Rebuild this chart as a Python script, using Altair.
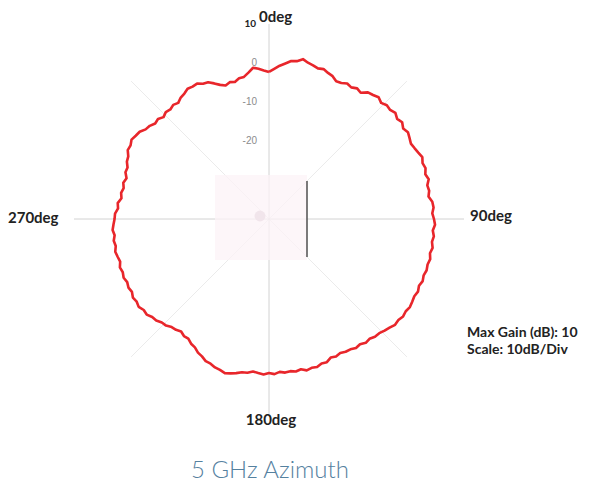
import altair as alt
import pandas as pd

# ---------------- data ----------------
angles = list(range(0, 360, 2))  # degrees, clockwise from 0deg (top)
gains = [
    -2.3, -1.5, -0.6, 0.1, 0.9, 1.1, 1.9, 1.3, 1.0, 0.6,        # 0-18
    0.9, 0.4, 0.1, -0.7, -0.5, 0.1, -0.2, 0.4, 0.0, 1.2,        # 20-38
    1.5, 2.0, 1.4, 2.0, 1.8, 2.3, 1.7, 2.2, 1.5, 2.0,           # 40-58
    1.6, 1.2, 1.5, 1.9, 2.4, 1.9, 2.2, 1.7, 2.2, 1.5,           # 60-78
    1.7, 1.3, 2.1, 2.3, 1.9, 2.3, 2.6, 2.1, 2.5, 2.2,           # 80-98
    2.6, 2.2, 2.6, 2.3, 2.5, 2.2, 2.5, 2.1, 2.5, 2.2,           # 100-118
    2.4, 2.6, 2.3, 2.5, 2.1, 2.2, 1.6, 1.2, 0.7, 0.6,           # 120-138
    0.1, 0.3, -0.3, -0.1, -0.6, -0.7, -1.1, -0.8, -1.1, -0.4,   # 140-158
    -0.6, -0.1, -0.3, 0.0, -0.6, -0.3, -0.6, -0.4, -0.7, -0.2,  # 160-178
    -0.5, -0.1, -0.4, -0.7, -0.2, -0.1, 0.4, 0.8, 1.1, 0.7,     # 180-198
    0.5, 0.0, -0.1, -0.8, -1.2, -2.0, -2.3, -3.0, -2.9, -3.4,   # 200-218
    -2.9, -2.7, -2.0, -1.8, -1.1, -0.9, -0.2, -0.3, 0.3, 0.0,   # 220-238
    0.3, -0.2, 0.1, -0.2, 0.2, -0.1, 0.2, -0.3, 0.0, 0.3,       # 240-258
    -0.1, 0.2, -0.2, 0.2, -0.1, -0.4, -0.5, -1.2, -1.0, -1.8,   # 260-278
    -1.5, -1.9, -1.5, -2.0, -1.3, -1.4, -0.7, -0.5, 0.3, 0.2,   # 280-298
    0.7, 0.3, 0.0, -0.9, -1.2, -1.9, -1.7, -2.4, -1.9, -2.2,    # 300-318
    -1.8, -2.2, -1.5, -1.2, -0.6, -0.8, -0.7, -1.4, -1.6, -2.5, # 320-338
    -3.4, -4.0, -3.5, -3.8, -3.1, -3.0, -2.1, -1.0, -1.4, -1.9, # 340-358
]
spoke_angles = [0, 45, 90, 135, 180, 225, 270, 315]
tick_values = [10, 0, -10, -20]
direction_labels = ["0deg", "90deg", "180deg", "270deg"]
info_lines = ["Max Gain (dB): 10", "Scale: 10dB/Div"]
title_text = "5 GHz Azimuth"

FLOOR = -40      # dB at centre
MAX_DB = 10      # outer ring

# ---------------- geometry (pixels) ----------------
W, H = 577, 474
CX, CY = 261, 211       # centre of the polar plot in chart pixels
PXU = 3.9               # pixels per dB

xs = alt.Scale(domain=[-CX / PXU, (W - CX) / PXU], nice=False, zero=False)
ys = alt.Scale(domain=[-(H - CY) / PXU, CY / PXU], nice=False, zero=False)

# ---------------- tables ----------------
df_curve = pd.DataFrame({"angle": angles + [360], "gain": gains + [gains[0]]})
df_spokes = pd.DataFrame({"angle": spoke_angles})
df_ticks = pd.DataFrame({"tick": tick_values})
one = pd.DataFrame({"a": [0]})

rmax = MAX_DB - FLOOR

spokes = (
    alt.Chart(df_spokes)
    .transform_calculate(
        x0="0", y0="0",
        x1=f"{rmax}*sin(datum.angle*PI/180)",
        y1=f"{rmax}*cos(datum.angle*PI/180)",
    )
)
spokes_axis = spokes.transform_filter("datum.angle % 90 == 0").mark_rule(
    color="#d2d2d2", strokeWidth=1
).encode(
    x=alt.X("x0:Q", scale=xs, axis=None),
    y=alt.Y("y0:Q", scale=ys, axis=None),
    x2="x1:Q", y2="y1:Q",
)
spokes_diag = spokes.transform_filter("datum.angle % 90 != 0").mark_rule(
    color="#ebebeb", strokeWidth=1
).encode(
    x=alt.X("x0:Q", scale=xs, axis=None),
    y=alt.Y("y0:Q", scale=ys, axis=None),
    x2="x1:Q", y2="y1:Q",
)

# device picture in the middle (decoration)
device = alt.Chart(one).mark_rect(color="#fcf3f7", opacity=0.75).encode(
    x=alt.value(207), x2=alt.value(299), y=alt.value(167), y2=alt.value(252)
)
device_bar = alt.Chart(one).mark_rule(color="#5a5a5a", strokeWidth=1.6).encode(
    x=alt.value(299), y=alt.value(173), y2=alt.value(249)
)
device_dot = alt.Chart(one).mark_point(
    filled=True, color="#f1e5eb", size=120, opacity=1
).encode(x=alt.value(252), y=alt.value(208))

ticks = alt.Chart(df_ticks).transform_calculate(
    ry=f"datum.tick - ({FLOOR})", label="toString(datum.tick)"
)
ticks_grey = ticks.transform_filter("datum.tick < 10").mark_text(
    align="right", baseline="middle", fontSize=10, color="#8c8c8c",
    font="Liberation Sans",
).encode(x=alt.value(249), y=alt.Y("ry:Q", scale=ys, axis=None), text="label:N")
ticks_top = ticks.transform_filter("datum.tick == 10").mark_text(
    align="right", baseline="middle", fontSize=10, color="#222222",
    fontWeight="bold", font="Lato",
).encode(x=alt.value(248), y=alt.Y("ry:Q", scale=ys, axis=None), text="label:N")

curve = (
    alt.Chart(df_curve)
    .transform_calculate(
        px=f"(datum.gain - ({FLOOR}))*sin(datum.angle*PI/180)",
        py=f"(datum.gain - ({FLOOR}))*cos(datum.angle*PI/180)",
    )
    .mark_line(color="#e8262b", strokeWidth=2.6, strokeJoin="round")
    .encode(
        x=alt.X("px:Q", scale=xs, axis=None),
        y=alt.Y("py:Q", scale=ys, axis=None),
        order=alt.Order("angle:Q"),
    )
)


def label(text, x, y, align="left", size=13, weight="bold", color="#222222", font="Lato"):
    return alt.Chart(one).mark_text(
        text=text, align=align, baseline="middle", fontSize=size,
        fontWeight=weight, color=color, font=font,
    ).encode(x=alt.value(x), y=alt.value(y))


labels = [
    label(direction_labels[0], 251, 9, size=15),
    label(direction_labels[1], 462, 208, size=15),
    label(direction_labels[2], 263, 412, align="center", size=15),
    label(direction_labels[3], 0, 210, size=15),
    label(info_lines[0], 459, 325, size=14),
    label(info_lines[1], 459, 342, size=14),
    label(title_text, 262, 463, align="center", size=24, weight=300,
          color="#55819f"),
]

chart = alt.layer(
    spokes_diag, spokes_axis, device, device_bar, device_dot,
    ticks_grey, ticks_top, curve, *labels
).properties(
    width=W, height=H, padding=0, autosize=alt.AutoSizeParams(type="none")
).configure_view(stroke=None)

chart.save("out.html", embed_options={"renderer": "svg", "actions": False})
